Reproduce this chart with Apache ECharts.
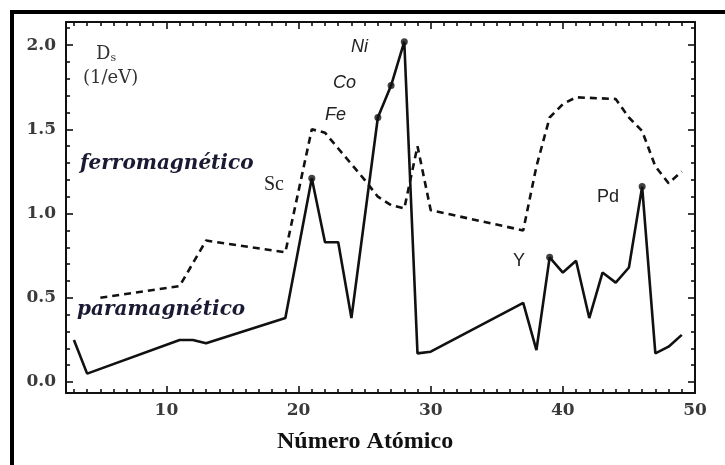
<!DOCTYPE html>
<html>
<head>
<meta charset="utf-8">
<script src="https://cdn.jsdelivr.net/npm/echarts@6/dist/echarts.min.js"></script>
<style>
html,body{margin:0;padding:0;background:#fff;}
#chart{width:725px;height:465px;}
</style>
</head>
<body>
<div id="chart"></div>
<script>
// Atomic numbers and density of states D_s (1/eV)
const paraZ = [3, 4, 11, 12, 13, 19, 21, 22, 23, 24, 26, 27, 28, 29, 30, 37, 38, 39, 40, 41, 42, 43, 44, 45, 46, 47, 48, 49];
const paraD = [0.25, 0.05, 0.25, 0.25, 0.23, 0.38, 1.21, 0.83, 0.83, 0.38, 1.57, 1.76, 2.02, 0.17, 0.18, 0.47, 0.19, 0.74, 0.65, 0.72, 0.38, 0.65, 0.59, 0.68, 1.16, 0.17, 0.21, 0.28];
const ferroZ = [5, 11, 13, 19, 21, 22, 25, 26, 27, 28, 29, 30, 37, 38, 39, 40, 41, 44, 45, 46, 47, 48, 49];
const ferroD = [0.50, 0.57, 0.84, 0.77, 1.50, 1.48, 1.20, 1.10, 1.05, 1.03, 1.40, 1.02, 0.90, 1.28, 1.57, 1.65, 1.69, 1.68, 1.57, 1.49, 1.28, 1.18, 1.25];
const markedZ = [21, 26, 27, 28, 39, 46];
const elementLabels = ['Sc', 'Fe', 'Co', 'Ni', 'Y', 'Pd'];
const xTickStep = 10;
const yTickStep = 0.5;
const xTitle = 'Número Atómico';
const yTitle = 'D';
const yTitleSub = 's';
const yUnit = '(1/eV)';
const ferroName = 'ferromagnético';
const paraName = 'paramagnético';

const chart = echarts.init(document.getElementById('chart'), null, {renderer: 'canvas'});

const isMult = (v, s) => Math.abs(v / s - Math.round(v / s)) < 1e-6;
const labelFont = {fontFamily: 'DejaVu Serif', fontSize: 17, fontWeight: 'bold', color: '#3a3a3a'};

function xAx(pos, show) {
  return {
    type: 'value', min: 2.4, max: 50, position: pos,
    axisLine: {show: true, onZero: false, lineStyle: {color: '#111', width: 2}},
    axisTick: {show: true, inside: true, length: 7, lineStyle: {color: '#111', width: 1.6}},
    minorTick: {show: true, splitNumber: 10, length: 4, lineStyle: {color: '#111', width: 1.6}},
    splitLine: {show: false},
    axisLabel: Object.assign({show: show, margin: 9,
      formatter: v => isMult(v, xTickStep) ? String(Math.round(v)) : ''}, labelFont)
  };
}
function yAx(pos, show) {
  return {
    type: 'value', min: -0.065, max: 2.137, position: pos,
    axisLine: {show: true, onZero: false, lineStyle: {color: '#111', width: 2}},
    axisTick: {show: true, inside: true, length: 7, lineStyle: {color: '#111', width: 1.6}},
    minorTick: {show: true, splitNumber: 5, length: 4, lineStyle: {color: '#111', width: 1.6}},
    splitLine: {show: false},
    axisLabel: Object.assign({show: show, margin: 10,
      formatter: v => isMult(v, yTickStep) ? v.toFixed(1) : ''}, labelFont)
  };
}

const paraData = paraZ.map((z, i) => [z, paraD[i]]);
const ferroData = ferroZ.map((z, i) => [z, ferroD[i]]);
const dotData = markedZ.map(z => [z, paraD[paraZ.indexOf(z)]]);

const tStyle = (extra) => Object.assign({fill: '#222', fontFamily: 'Liberation Sans', fontSize: 18}, extra);

chart.setOption({
  animation: false,
  backgroundColor: '#fff',
  grid: {left: 66, right: 30, top: 22, bottom: 72, containLabel: false},
  xAxis: [xAx('bottom', true), xAx('top', false)],
  yAxis: [yAx('left', true), yAx('right', false)],
  series: [
    {name: paraName, type: 'line', data: paraData, symbol: 'none',
     lineStyle: {color: '#111', width: 2.6}, z: 3},
    {name: ferroName, type: 'line', data: ferroData, symbol: 'none',
     lineStyle: {color: '#111', width: 2.6, type: [7, 5]}, z: 2},
    {type: 'scatter', data: dotData, symbolSize: 7, itemStyle: {color: '#111'}, z: 4}
  ],
  graphic: [
    // outer frame (top and left visible)
    {type: 'rect', shape: {x: 10, y: 10, width: 720, height: 4}, style: {fill: '#000'}},
    {type: 'rect', shape: {x: 10, y: 10, width: 4, height: 460}, style: {fill: '#000'}},
    // y title
    {type: 'text', left: 96, top: 45, style: {
      text: '{a|' + yTitle + '}{b|' + yTitleSub + '}',
      rich: {a: {fontFamily: 'DejaVu Serif', fontSize: 18, fill: '#333'},
             b: {fontFamily: 'DejaVu Serif', fontSize: 11, fill: '#333', padding: [9, 0, 0, 0]}}}},
    {type: 'text', left: 83, top: 69, style: {text: yUnit, fontFamily: 'DejaVu Serif', fontSize: 18, fill: '#333'}},
    // series names
    {type: 'text', left: 80, top: 154, style: {text: ferroName, fill: '#1a1a33',
      fontFamily: 'DejaVu Serif', fontStyle: 'italic', fontWeight: 'bold', fontSize: 20}},
    {type: 'text', left: 77, top: 300, style: {text: paraName, fill: '#1a1a33',
      fontFamily: 'DejaVu Serif', fontStyle: 'italic', fontWeight: 'bold', fontSize: 20}},
    // element labels
    {type: 'text', left: 264, top: 175, style: tStyle({text: elementLabels[0], fontFamily: 'Liberation Serif', fontSize: 20})},
    {type: 'text', left: 325, top: 106, style: tStyle({text: elementLabels[1], fontStyle: 'italic'})},
    {type: 'text', left: 333, top: 74, style: tStyle({text: elementLabels[2], fontStyle: 'italic'})},
    {type: 'text', left: 351, top: 38, style: tStyle({text: elementLabels[3], fontStyle: 'italic'})},
    {type: 'text', left: 513, top: 252, style: tStyle({text: elementLabels[4]})},
    {type: 'text', left: 597, top: 188, style: tStyle({text: elementLabels[5]})},
    // x title
    {type: 'text', left: 277, top: 430, style: {text: xTitle, fill: '#111',
      fontFamily: 'Liberation Serif', fontWeight: 'bold', fontSize: 24}}
  ]
});
</script>
</body>
</html>
